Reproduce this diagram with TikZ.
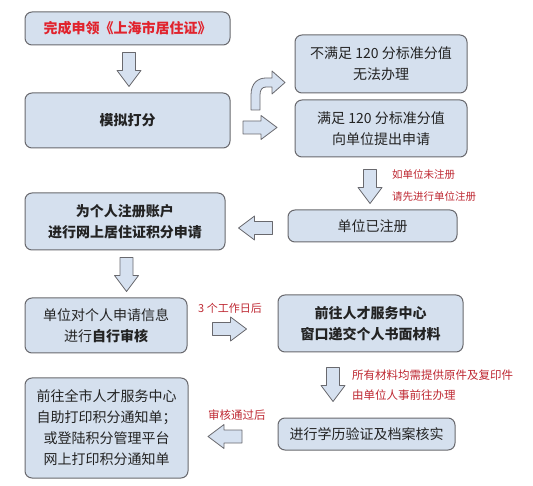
\documentclass[tikz,border=0pt]{standalone}
\usepackage{fontspec}
\setmainfont{Noto Sans CJK SC}
\definecolor{boxfill}{RGB}{213,224,238}
\definecolor{arrowfill}{RGB}{214,225,240}
\definecolor{boxline}{RGB}{105,105,110}
\definecolor{boxtext}{RGB}{35,35,35}
\definecolor{notered}{RGB}{190,40,50}
\definecolor{titlered}{RGB}{225,35,45}
\begin{document}
\begin{tikzpicture}[x=1pt, y=-1pt, line join=round,
  box/.style={draw=boxline, fill=boxfill, rounded corners=7pt, line width=1pt,
    align=center, inner sep=0pt, text=boxtext, font=\fontsize{14}{21}\selectfont},
  note/.style={text=notered, anchor=west, align=left, inner sep=0pt,
    font=\fontsize{10.5}{22}\selectfont},
  fatarrow/.pic={
    \draw[draw=boxline, fill=arrowfill, line width=0.8pt]
      (-17,-6.5) -- (1,-6.5) -- (1,-12) -- (17,0) -- (1,12) -- (1,6.5) -- (-17,6.5) -- cycle;
  }]
\useasboundingbox (0,0) rectangle (533,486);
% Left column
\node[box, minimum width=205pt, minimum height=33pt, text=titlered, font=\fontsize{14}{21}\selectfont\bfseries]
  (apply) at (127.5,28.5) {完成申领《上海市居住证》};
\node[box, minimum width=205pt, minimum height=55pt, font=\fontsize{14}{21}\selectfont\bfseries]
  (score) at (127.5,120.5) {模拟打分};
\node[box, minimum width=200pt, minimum height=57pt, font=\fontsize{14}{21}\selectfont\bfseries]
  (account) at (125,221.5) {为个人注册账户\\进行网上居住证积分申请};
\node[box, minimum width=162pt, minimum height=55pt]
  (selfcheck) at (106,325.5) {单位对个人申请信息\\进行\textbf{自行审核}};
\node[box, minimum width=163pt, minimum height=100pt]
  (print) at (106.5,428) {前往全市人才服务中心\\自助打印积分通知单；\\或登陆积分管理平台\\网上打印积分通知单};
% Right column
\node[box, minimum width=172pt, minimum height=58pt]
  (fail) at (381,64) {不满足 120 分标准分值\\无法办理};
\node[box, minimum width=172pt, minimum height=57pt]
  (pass) at (381,128.5) {满足 120 分标准分值\\向单位提出申请};
\node[box, minimum width=169pt, minimum height=32pt]
  (unitreg) at (372.5,226) {单位已注册};
\node[box, minimum width=185pt, minimum height=57pt, font=\fontsize{14}{21}\selectfont\bfseries]
  (submit) at (370.5,323.5) {前往人才服务中心\\窗口递交个人书面材料};
\node[box, minimum width=177pt, minimum height=32pt]
  (verify) at (366.5,434) {进行学历验证及档案核实};
% Notes
\node[note] (noreg) at (392,186) {如单位未注册\\请先进行单位注册};
\node[note, font=\fontsize{11}{22}\selectfont] (days) at (198,308) {3 个工作日后};
\node[note, font=\fontsize{11.5}{20}\selectfont] (copies) at (352,385) {所有材料均需提供原件及复印件\\由单位人事前往办理};
\node[note, font=\fontsize{11.5}{22}\selectfont] (passed) at (208,415) {审核通过后};
% Block arrows
\pic[rotate=-90] at (129,69.5) {fatarrow};
\pic at (260,127.5) {fatarrow};
\pic[rotate=-90] at (370,186.5) {fatarrow};
\pic[rotate=180] at (255.5,228) {fatarrow};
\pic[rotate=-90] at (126.5,274.5) {fatarrow};
\pic at (229.5,329) {fatarrow};
\pic[rotate=-90] at (333,384.5) {fatarrow};
\pic[rotate=180] at (225,436.5) {fatarrow};
% Bent arrow towards the upper box
\draw[draw=boxline, fill=arrowfill, line width=0.8pt]
  (251,110) -- (251,95) .. controls (251,83) and (258,78) .. (266,78) -- (272,78)
  -- (272,71) -- (285,82.5) -- (272,94) -- (272,87) -- (266,87)
  .. controls (262,87) and (260,90) .. (260,95) -- (260,110) -- cycle;
\end{tikzpicture}
\end{document}
